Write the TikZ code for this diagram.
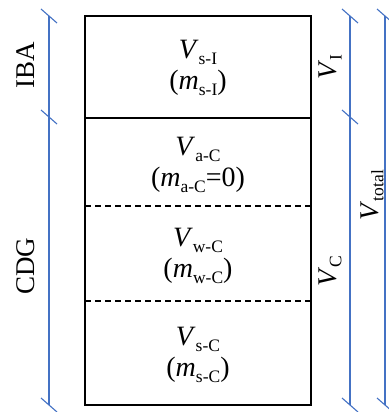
\documentclass[tikz,border=0pt]{standalone}
\usepackage{fontspec}
\setmainfont{Liberation Serif}
\definecolor{lineblue}{HTML}{4472C4}
\newcommand\sbx[1]{\raisebox{-0.2em}{\fontsize{17.5}{17.5}\selectfont #1}}
\begin{document}
\begin{tikzpicture}[x=1pt,y=-1pt,
 box/.style={line width=1.8pt},
 sep/.style={line width=1.4pt, dash pattern=on 6pt off 4pt},
 dim/.style={lineblue, line width=1.6pt},
 tickmark/.style={lineblue, line width=1.1pt},
 lab/.style={font=\fontsize{28}{31}\selectfont, align=center, inner sep=0pt},
 side/.style={font=\fontsize{27}{31}\selectfont, rotate=90, inner sep=0pt}]
\useasboundingbox (0,0) rectangle (388,412);
% box corners and separators
\coordinate (tl) at (85,16);
\coordinate (br) at (311,405);
\coordinate (s1l) at (85,118);
\coordinate (s1r) at (311,118);
\coordinate (s2l) at (85,206);
\coordinate (s2r) at (311,206);
\coordinate (s3l) at (85,301);
\coordinate (s3r) at (311,301);
\draw[box] (tl) rectangle (br);
\draw[box] (s1l) -- (s1r);
\draw[sep] (s2l) -- (s2r);
\draw[sep] (s3l) -- (s3r);
% dimension lines
\coordinate (L1) at (49,16);
\coordinate (L2) at (49,117);
\coordinate (L3) at (49,405);
\coordinate (M1) at (350,16);
\coordinate (M2) at (350,117);
\coordinate (M3) at (350,405);
\coordinate (R1) at (385,16);
\coordinate (R3) at (385,405);
\draw[dim] (L1) -- (L3);
\draw[dim] (M1) -- (M3);
\draw[dim] (R1) -- (R3);
\foreach \c in {L1,L2,L3,M1,M2,M3,R1,R3}
  \draw[tickmark, shift={(\c)}] (-8,-7) -- (8,7);
% contents
\node[lab] (sI) at (198,68) {\textit{V}\sbx{s-I}\\(\textit{m}\sbx{s-I})};
\node[lab] (aC) at (198,165) {\textit{V}\sbx{a-C}\\(\textit{m}\sbx{a-C}=0)};
\node[lab] (wC) at (198,256) {\textit{V}\sbx{w-C}\\(\textit{m}\sbx{w-C})};
\node[lab] (sC) at (198,355) {\textit{V}\sbx{s-C}\\(\textit{m}\sbx{s-C})};
% side labels
\node[side] (IBA) at (26,65) {IBA};
\node[side] (CDG) at (26,266) {CDG};
\node[side] (VI) at (330,67) {\textit{V}\sbx{I}};
\node[side] (VC) at (330,271) {\textit{V}\sbx{C}};
\node[side] (Vt) at (372,195) {\textit{V}\sbx{total}};
\end{tikzpicture}
\end{document}
